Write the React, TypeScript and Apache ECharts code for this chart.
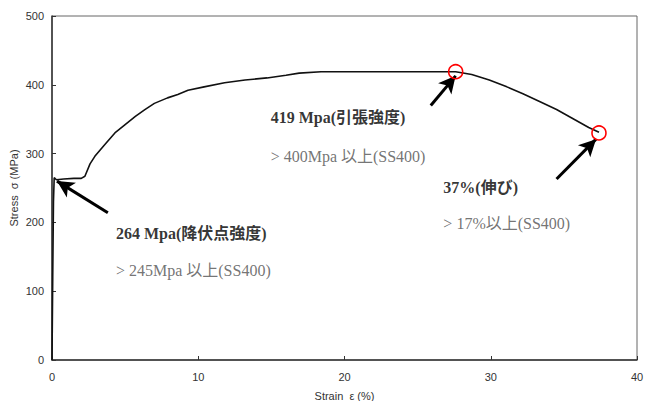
import React, { useEffect, useRef } from "react";
import * as echarts from "echarts";

const strain = [0, 0.05, 0.1, 0.15, 0.3, 0.8, 1.5, 2.0, 2.25, 2.6, 2.93, 3.6, 4.3, 5.0, 5.7, 6.35, 7.0, 7.9, 8.6, 9.3, 10.4, 11.8, 13.2, 14.7, 16.0, 16.9, 18.4, 22, 25, 27.6, 28.7, 29.9, 31.1, 32.2, 33.3, 34.5, 35.6, 36.7, 37.4];
const stress = [0, 120, 230, 265, 262, 263, 264, 264, 267, 285, 296, 313, 330, 342, 354, 364, 373, 381, 386, 392, 397, 403, 407, 410, 414, 417, 419, 419, 419, 419, 415, 407, 397, 387, 376, 364, 351, 338, 331];

const xTicks = [0, 10, 20, 30, 40];
const yTicks = [0, 100, 200, 300, 400, 500];

// annotation circles (strain, stress)
const circlePoints = [
  [27.6, 419],
  [37.4, 330],
];

// arrows: [tailX, tailY, headX, headY]
const arrows = [
  [3.82, 214, 0.34, 260],
  [25.9, 370, 27.6, 413],
  [34.5, 263, 37.2, 321],
];

// annotation texts: [x, y, text]
const titleLabels: [number, number, string][] = [
  [4.37, 183.5, "264 Mpa(降伏点強度)"],
  [14.95, 352.6, "419 Mpa(引張強度)"],
  [26.76, 251, "37%(伸び)"],
];
const subLabels: [number, number, string][] = [
  [4.37, 130, "> 245Mpa 以上(SS400)"],
  [14.95, 296, "> 400Mpa 以上(SS400)"],
  [26.76, 198, "> 17%以上(SS400)"],
];

const serif = '"Liberation Serif", "DejaVu Serif", "Noto Sans CJK JP", serif';
const sans = '"Liberation Sans", Arial, sans-serif';

export default function App() {
  const ref = useRef<HTMLDivElement>(null);
  useEffect(() => {
    if (!ref.current) return;
    const chart = echarts.init(ref.current, undefined, { renderer: "svg" });
    const curve = strain.map((s, i) => [s, stress[i]]);
    chart.setOption({
      animation: false,
      backgroundColor: "#fff",
      grid: {
        left: 52,
        right: 10,
        top: 16,
        bottom: 41,
        outerBoundsMode: "none",
        containLabel: false,
        show: true,
        borderColor: "#666",
        borderWidth: 1,
        backgroundColor: "transparent",
      },
      xAxis: {
        type: "value",
        min: xTicks[0],
        max: xTicks[xTicks.length - 1],
        interval: 10,
        name: "Strain  ε (%)",
        nameLocation: "middle",
        nameGap: 30,
        nameMoveOverlap: false,
        nameTextStyle: { fontFamily: sans, fontSize: 11, color: "#333" },
        axisLine: { show: true, onZero: false, lineStyle: { color: "#333", width: 1.5 } },
        axisTick: { show: true, inside: true, length: 4, lineStyle: { color: "#333" } },
        axisLabel: { fontFamily: sans, fontSize: 11, color: "#333", margin: 11 },
        splitLine: { show: false },
      },
      yAxis: {
        type: "value",
        min: yTicks[0],
        max: yTicks[yTicks.length - 1],
        interval: 100,
        name: "Stress  σ (MPa)",
        nameLocation: "middle",
        nameGap: 33,
        nameMoveOverlap: false,
        nameTextStyle: { fontFamily: sans, fontSize: 11, color: "#333" },
        axisLine: { show: true, onZero: false, lineStyle: { color: "#333", width: 1.5 } },
        axisTick: { show: true, inside: true, length: 4, lineStyle: { color: "#333" } },
        axisLabel: { fontFamily: sans, fontSize: 11, color: "#333", margin: 8 },
        splitLine: { show: false },
      },
      series: [
        {
          type: "line",
          data: curve,
          showSymbol: false,
          smooth: false,
          lineStyle: { color: "#111", width: 1.6 },
          z: 3,
          markLine: {
            silent: true,
            symbol: ["none", "arrow"],
            symbolSize: [13, 17],
            label: { show: false },
            lineStyle: { color: "#000", width: 3, type: "solid" },
            data: arrows.map((a) => [
              { coord: [a[0], a[1]] },
              { coord: [a[2], a[3]] },
            ]),
          },
          markPoint: {
            silent: true,
            symbol: "circle",
            symbolSize: 14,
            label: { show: false },
            itemStyle: { color: "rgba(0,0,0,0)", borderColor: "#ff0000", borderWidth: 1.6 },
            data: circlePoints.map((p) => ({ coord: p })),
          },
        },
        {
          type: "scatter",
          symbolSize: 0,
          silent: true,
          data: titleLabels.map((t) => ({ value: [t[0], t[1]], name: t[2] })),
          label: {
            show: true,
            position: "right",
            distance: 0,
            formatter: (p: any) => p.name,
            fontFamily: serif,
            fontSize: 16,
            fontWeight: "bold",
            color: "#000",
          },
        },
        {
          type: "scatter",
          symbolSize: 0,
          silent: true,
          data: subLabels.map((t) => ({ value: [t[0], t[1]], name: t[2] })),
          label: {
            show: true,
            position: "right",
            distance: 0,
            formatter: (p: any) => p.name,
            fontFamily: serif,
            fontSize: 16,
            color: "#505050",
          },
        },
      ],
    });
    return () => chart.dispose();
  }, []);
  return (
    <div
      ref={ref}
      style={{ position: "fixed", left: 0, top: 0, width: 647, height: 401, background: "#fff" }}
    />
  );
}
